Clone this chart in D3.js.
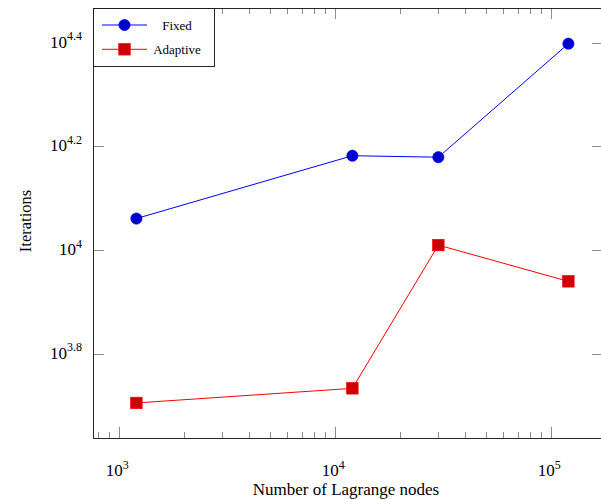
<!DOCTYPE html>
<html>
<head>
<meta charset="utf-8">
<script src="https://cdn.jsdelivr.net/npm/d3@7"></script>
<style>
  html, body { margin: 0; padding: 0; background: #fff; }
  svg { display: block; }
  text { font-family: "Liberation Serif", "DejaVu Serif", serif; fill: #000; }
</style>
</head>
<body>
<svg id="chart" width="601" height="499"></svg>
<script>
// ---- data ----
const nodes = [1200, 12000, 30000, 120000];
const fixedIters = [11500, 15200, 15100, 25000];
const adaptiveIters = [5070, 5410, 10220, 8700];
const seriesNames = ["Fixed", "Adaptive"];
const yTickExps = [3.8, 4.0, 4.2, 4.4];
const yTickLabels = ["3.8", "4", "4.2", "4.4"];
const xTickExps = [3, 4, 5];
const xTitle = "Number of Lagrange nodes";
const yTitle = "Iterations";

// ---- layout ----
const L = 93, R = 603, T = 8, B = 438;
const xDec = 216, x3 = 119.3;   // px per decade, position of 10^3
const yDec = 518.5, y4 = 250;   // px per decade, position of 10^4

const x = d3.scaleLog()
  .domain([Math.pow(10, 3 - (x3 - L) / xDec), Math.pow(10, 3 + (R - x3) / xDec)])
  .range([L, R]);
const y = d3.scaleLog()
  .domain([Math.pow(10, 4 - (B - y4) / yDec), Math.pow(10, 4 + (y4 - T) / yDec)])
  .range([B, T]);

const svg = d3.select("#chart");
const tickColor = "#8c8c8c";

// minor + major x ticks (bottom and top, pointing inward)
const [xlo, xhi] = x.domain();
const xMinor = [];
for (let e = 2; e <= 5; e++) {
  for (let m = 1; m <= 9; m++) {
    const v = m * Math.pow(10, e);
    if (v >= xlo && v <= xhi) xMinor.push({ v, major: m === 1 });
  }
}
const gx = svg.append("g");
xMinor.forEach(t => {
  const px = Math.round(x(t.v)) + 0.5;
  const len = t.major ? 11 : 6;
  gx.append("line").attr("x1", px).attr("x2", px).attr("y1", B).attr("y2", B - len)
    .attr("stroke", tickColor).attr("stroke-width", 1);
  gx.append("line").attr("x1", px).attr("x2", px).attr("y1", T).attr("y2", T + len)
    .attr("stroke", tickColor).attr("stroke-width", 1);
});

// y ticks (left and right, inward)
const gy = svg.append("g");
yTickExps.forEach(e => {
  const py = Math.round(y(Math.pow(10, e))) + 0.5;
  gy.append("line").attr("x1", L).attr("x2", L + 11).attr("y1", py).attr("y2", py)
    .attr("stroke", tickColor).attr("stroke-width", 1);
  gy.append("line").attr("x1", R).attr("x2", R - 11).attr("y1", py).attr("y2", py)
    .attr("stroke", tickColor).attr("stroke-width", 1);
});

// frame
svg.append("rect").attr("x", L + 0.5).attr("y", T + 0.5)
  .attr("width", R - L - 1).attr("height", B - T)
  .attr("fill", "none").attr("stroke", "#111").attr("stroke-width", 0.9);

// x tick labels
xTickExps.forEach(e => {
  const t = svg.append("text").attr("x", x(Math.pow(10, e)) - 2).attr("y", 476)
    .attr("text-anchor", "middle").style("font-size", "17px");
  t.append("tspan").text("10");
  t.append("tspan").attr("dy", -7.5).style("font-size", "12px").text(String(e));
});

// y tick labels
yTickExps.forEach((e, i) => {
  const t = svg.append("text").attr("x", 82).attr("y", y(Math.pow(10, e)) + 5)
    .attr("text-anchor", "end").style("font-size", "17px");
  t.append("tspan").text("10");
  t.append("tspan").attr("dy", -7.5).style("font-size", "12px").text(yTickLabels[i]);
});

// axis titles
svg.append("text").attr("x", (L + 601) / 2 - 1).attr("y", 495)
  .attr("text-anchor", "middle").style("font-size", "17px").text(xTitle);
svg.append("text").attr("transform", `translate(31, ${(T + B) / 2 - 2}) rotate(-90)`)
  .attr("text-anchor", "middle").style("font-size", "16.5px").text(yTitle);

// series
const line = d3.line().x(d => x(d[0])).y(d => y(d[1]));
const fixedPts = nodes.map((n, i) => [n, fixedIters[i]]);
const adaptPts = nodes.map((n, i) => [n, adaptiveIters[i]]);

svg.append("path").datum(fixedPts).attr("d", line)
  .attr("fill", "none").attr("stroke", "#0000ff").attr("stroke-width", 1);
svg.append("path").datum(adaptPts).attr("d", line)
  .attr("fill", "none").attr("stroke", "#ff0000").attr("stroke-width", 1);

svg.selectAll(".fm").data(fixedPts).enter().append("circle")
  .attr("cx", d => x(d[0])).attr("cy", d => y(d[1])).attr("r", 5.6)
  .attr("fill", "#0000cc").attr("stroke", "#0000ff").attr("stroke-width", 0.7);
const sq = 11.5;
svg.selectAll(".am").data(adaptPts).enter().append("rect")
  .attr("x", d => x(d[0]) - sq / 2).attr("y", d => y(d[1]) - sq / 2)
  .attr("width", sq).attr("height", sq)
  .attr("fill", "#cc0000").attr("stroke", "#ff0000").attr("stroke-width", 0.7);

// legend
const lg = svg.append("g");
lg.append("rect").attr("x", 93.5).attr("y", 8.5).attr("width", 121).attr("height", 58)
  .attr("fill", "#fff").attr("stroke", "#111").attr("stroke-width", 0.9);
const rows = [25, 49.3];
lg.append("line").attr("x1", 102).attr("x2", 147).attr("y1", rows[0]).attr("y2", rows[0])
  .attr("stroke", "#0000ff").attr("stroke-width", 1);
lg.append("circle").attr("cx", 124.5).attr("cy", rows[0]).attr("r", 5.6)
  .attr("fill", "#0000cc").attr("stroke", "#0000ff").attr("stroke-width", 0.7);
lg.append("line").attr("x1", 102).attr("x2", 147).attr("y1", rows[1]).attr("y2", rows[1])
  .attr("stroke", "#ff0000").attr("stroke-width", 1);
lg.append("rect").attr("x", 124.5 - sq / 2).attr("y", rows[1] - sq / 2)
  .attr("width", sq).attr("height", sq)
  .attr("fill", "#cc0000").attr("stroke", "#ff0000").attr("stroke-width", 0.7);
seriesNames.forEach((s, i) => {
  lg.append("text").attr("x", 177).attr("y", rows[i] + 4.5)
    .attr("text-anchor", "middle").style("font-size", "13px").text(s);
});
</script>
</body>
</html>
